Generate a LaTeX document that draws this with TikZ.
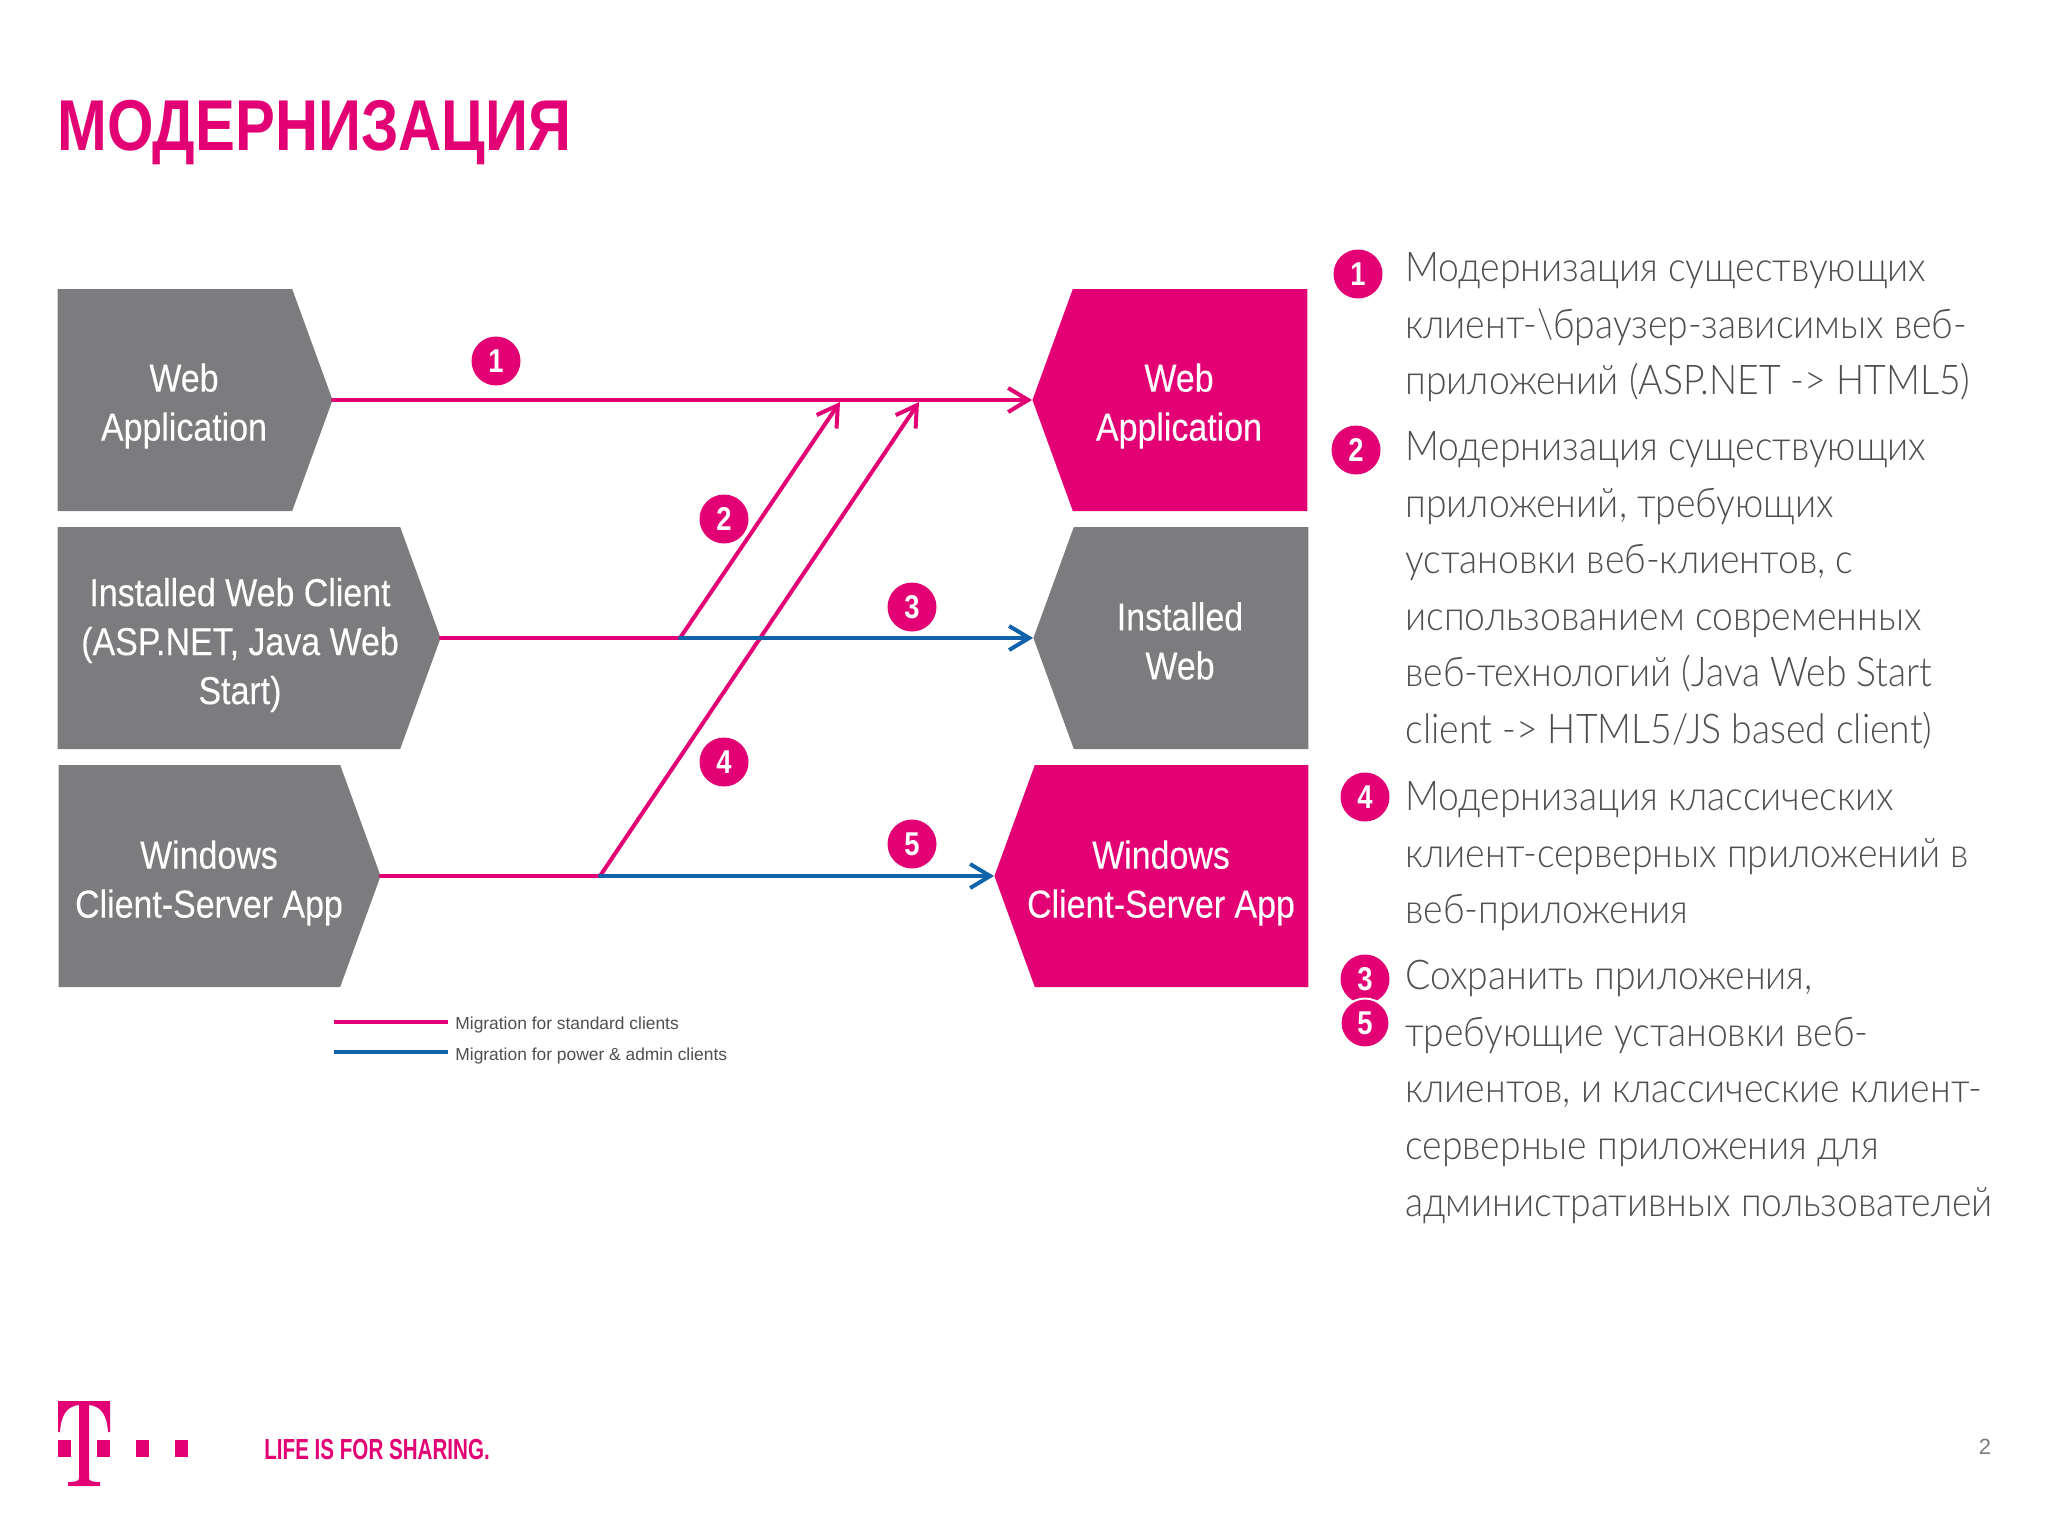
\documentclass[tikz,border=0pt]{standalone}
\usepackage{fontspec}
\setmainfont{Liberation Sans}
\newfontfamily\narrowfont{Liberation Sans}[FakeStretch=0.87,FakeBold=0.15]
\newfontfamily\titlefont{Liberation Sans}[FakeStretch=0.83]
\newfontfamily\sloganfont{Liberation Sans}[FakeStretch=0.71]
\newfontfamily\bodyfont{Lato Light}[FakeStretch=0.91]
\usetikzlibrary{arrows.meta,shapes.symbols}
\definecolor{tpink}{HTML}{E20074}
\definecolor{tgray}{HTML}{7C7B7E}
\definecolor{tblue}{HTML}{1062AB}
\definecolor{ttext}{HTML}{4F4F51}
\tikzset{
    %Define standard arrow tip
    >={Straight Barb[length=10pt,width=12pt,line width=2pt]},
    %Define style for boxes
    chevron/.style={
           signal, signal pointer angle=140, inner sep=0pt,
           minimum height=111pt},
    boxtext/.style={
           text=white, align=center,
           font=\narrowfont\fontsize{19.5}{24.5}\selectfont},
    % Define arrow style
    pil/.style={
           line width=2pt,
           line cap=round}
}

\begin{document}
\begin{tikzpicture}[x=0.5pt,y=-0.5pt]
	% Styles
	\tikzstyle{badge} = [circle, fill=tpink, text=white, minimum size=24.5pt, inner sep=0pt, font=\titlefont\bfseries\fontsize{16.5}{18}\selectfont]
	\tikzstyle{para} = [anchor=north west, align=left, inner sep=0pt, text=ttext, font=\bodyfont\fontsize{20.5}{28.3}\selectfont]
	\tikzstyle{legend} = [anchor=west, inner sep=0pt, text=ttext, font=\fontsize{8.7}{10}\selectfont]

	\useasboundingbox (0,0) rectangle (2048,1536);
	\fill[white] (0,0) rectangle (2048,1536);

	% Title
	\node[anchor=base west, inner sep=0pt, text=tpink, font=\titlefont\bfseries\fontsize{36}{40}\selectfont] (title) at (57,150) {МОДЕРНИЗАЦИЯ};

	% Left boxes
	\node[chevron, signal to=east, fill=tgray, minimum width=137.5pt, anchor=east] (webleft) at (333,400) {};
	\node[chevron, signal to=east, fill=tgray, minimum width=191.5pt, anchor=east] (installedleft) at (441,638) {};
	\node[chevron, signal to=east, fill=tgray, minimum width=161pt, anchor=east] (windowsleft) at (381,876) {};
	\node[boxtext] (webleftlabel) at (184,406) {Web\\Application};
	\node[boxtext] (installedleftlabel) at (240,645) {Installed Web Client\\(ASP.NET, Java Web\\Start)};
	\node[boxtext] (windowsleftlabel) at (209,883) {Windows\\Client-Server App};

	% Right boxes
	\node[chevron, signal to=west, fill=tpink, minimum width=137.5pt, anchor=west] (webright) at (1032,400) {};
	\node[chevron, signal to=west, fill=tgray, minimum width=137.5pt, anchor=west] (installedright) at (1033,638) {};
	\node[chevron, signal to=west, fill=tpink, minimum width=157pt, anchor=west] (windowsright) at (994,876) {};
	\node[boxtext] (webrightlabel) at (1179,406) {Web\\Application};
	\node[boxtext] (installedrightlabel) at (1180,641) {Installed\\Web};
	\node[boxtext] (windowsrightlabel) at (1161,883) {Windows\\Client-Server App};

	% Branch points
	\coordinate (branchtwo) at (680,638);
	\coordinate (branchfour) at (600,876);
	\coordinate (endtwo) at (840,402);
	\coordinate (endfour) at (919,402);

	% Connectors
	\draw[pil, tpink, ->] (webleft.east) -- (webright.west);
	\draw[pil, tpink] (installedleft.east) -- (branchtwo);
	\draw[pil, tpink, ->] (branchtwo) -- (endtwo);
	\draw[pil, tpink] (windowsleft.east) -- (branchfour);
	\draw[pil, tpink, ->] (branchfour) -- (endfour);
	\draw[pil, tblue, ->] (branchtwo) -- (installedright.west);
	\draw[pil, tblue, ->] (branchfour) -- (windowsright.west);

	% Badges on the connectors
	\node[badge] (one) at (496,361) {1};
	\node[badge] (two) at (724,519) {2};
	\node[badge] (three) at (912,607) {3};
	\node[badge] (four) at (724,762) {4};
	\node[badge] (five) at (912,844) {5};

	% Legend
	\coordinate (pinkstart) at (334,1022);
	\coordinate (bluestart) at (334,1052);
	\coordinate (pinkend) at (448,1022);
	\coordinate (blueend) at (448,1052);
	\node[legend] (pinklegend) at (455,1025) {Migration for standard clients};
	\node[legend] (bluelegend) at (455,1056) {Migration for power \& admin clients};
	\draw[line width=2pt, tpink] (pinkstart) -- (pinkend);
	\draw[line width=2pt, tblue] (bluestart) -- (blueend);

	% Text on the right
	\node[badge] (listone) at (1358,274) {1};
	\node[para] (parone) at (1405,252) {Модернизация существующих\\клиент-\textbackslash браузер-зависимых веб-\\приложений (ASP.NET -> HTML5)};
	\node[badge] (listtwo) at (1356,450) {2};
	\node[para] (partwo) at (1405,431) {Модернизация существующих\\приложений, требующих\\установки веб-клиентов, с\\использованием современных\\веб-технологий (Java Web Start\\client -> HTML5/JS based client)};
	\node[badge] (listfour) at (1365,797) {4};
	\node[para] (parfour) at (1405,781) {Модернизация классических\\клиент-серверных приложений в\\веб-приложения};
	\node[badge] (listthree) at (1365,979) {3};
	\node[badge, draw=white, line width=1pt] (listfive) at (1365,1023) {5};
	\node[para] (parthree) at (1405,960) {Сохранить приложения,\\требующие установки веб-\\клиентов, и классические клиент-\\серверные приложения для\\административных пользователей};

	% Logo
	\fill[tpink] (58,1401) -- (110,1401) -- (110,1432) -- (108,1432) .. controls (107,1415) and (101,1406) .. (89,1405) -- (89,1478) .. controls (89,1481) and (92,1482) .. (100,1482) -- (100,1486) -- (68,1486) -- (68,1482) .. controls (76,1482) and (79,1481) .. (79,1478) -- (79,1405) .. controls (67,1406) and (61,1415) .. (60,1432) -- (58,1432) -- cycle;
	\fill[tpink] (58,1440) rectangle (71,1457);
	\fill[tpink] (97,1440) rectangle (110,1457);
	\fill[tpink] (136,1440) rectangle (149,1457);
	\fill[tpink] (175,1440) rectangle (188,1457);
	\node[anchor=base west, inner sep=0pt, text=tpink, font=\sloganfont\bfseries\fontsize{14.5}{16}\selectfont] (slogan) at (264,1459) {LIFE IS FOR SHARING.};
	\node[text=tgray, inner sep=0pt, font=\fontsize{11}{12}\selectfont] (pagenumber) at (1985,1447) {2};
\end{tikzpicture}
\end{document}
